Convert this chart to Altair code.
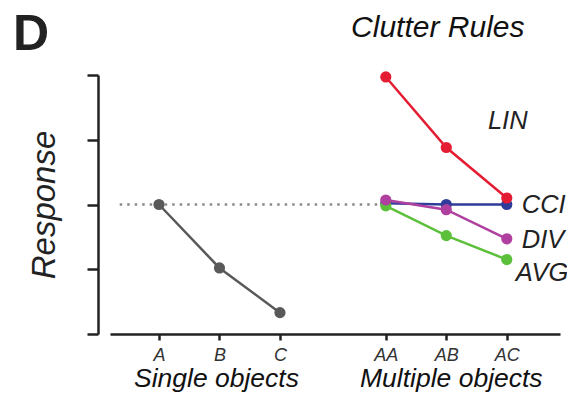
import altair as alt
import pandas as pd

# ---- data ----
single_cats = ["A", "B", "C"]
single_vals = [2.00, 1.02, 0.33]
multi_cats = ["AA", "AB", "AC"]
cci_vals = [2.02, 2.00, 2.00]
avg_vals = [1.98, 1.52, 1.15]
div_vals = [2.07, 1.92, 1.47]
lin_vals = [3.97, 2.88, 2.10]
y_ticks = [0, 1, 2, 3, 4]
series_names = ["Single", "CCI", "AVG", "DIV", "LIN"]
series_labels = ["CCI", "AVG", "DIV", "LIN"]
group_titles = ["Single objects", "Multiple objects"]

# ---- layout (positions of categories on the x scale) ----
GAP = 1.75
cat_pos = {c: float(i) for i, c in enumerate(single_cats)}
cat_pos.update({c: len(single_cats) - 1 + GAP + i for i, c in enumerate(multi_cats)})
all_cats = single_cats + multi_cats

colors = {"Single": "#595959", "CCI": "#2f3c9a", "AVG": "#5cc03b",
          "DIV": "#b0409f", "LIN": "#e51d33"}

series_data = {
    "Single": (single_cats, single_vals),
    "CCI": (multi_cats, cci_vals),
    "AVG": (multi_cats, avg_vals),
    "DIV": (multi_cats, div_vals),
    "LIN": (multi_cats, lin_vals),
}

rows = []
for s in series_names:
    cats, vals = series_data[s]
    for c, v in zip(cats, vals):
        rows.append({"series": s, "cat": c, "pos": cat_pos[c], "val": v})
df = pd.DataFrame(rows)

FONT = "Liberation Sans"
INK = "#222222"

label_expr = " : ".join(
    f"datum.value == {cat_pos[c]} ? '{c}'" for c in all_cats) + " : ''"

x_scale = alt.Scale(domain=[-0.81, 6.63], nice=False, zero=False)
y_scale = alt.Scale(domain=[0, 4], nice=False, zero=False)

x_axis = alt.Axis(values=[cat_pos[c] for c in all_cats], labelExpr=label_expr,
                  title=None, grid=False, tickSize=6, tickWidth=2.5,
                  domainWidth=2.5, domainColor=INK, tickColor=INK,
                  labelFont=FONT, labelFontStyle="italic", labelFontSize=18,
                  labelColor="#333333", labelPadding=6, labelOverlap=False,
                  labelFlush=False)
y_axis = alt.Axis(values=y_ticks, labels=False, title="Response", grid=False,
                  tickSize=11, tickWidth=2.5, domainWidth=2.5,
                  domainColor=INK, tickColor=INK, offset=12,
                  titleFont=FONT, titleFontStyle="italic", titleFontWeight="normal",
                  titleFontSize=33, titleColor=INK, titlePadding=24)

X = alt.X("pos:Q", scale=x_scale, axis=x_axis)
Y = alt.Y("val:Q", scale=y_scale, axis=y_axis)

layers = []

# dotted reference at the single-object A response, running to AA
ref_row = df[df.series == "Single"].head(1)
ref = alt.Chart(ref_row).mark_rule(
    color="#8a8a8a", strokeWidth=2.5, strokeDash=[2.5, 5]
).encode(x=alt.X(datum=cat_pos["A"] - 0.65, scale=x_scale, axis=x_axis),
         x2=alt.X2(datum=cat_pos["AA"]), y=Y)
layers.append(ref)

for s in series_names:
    sub = df[df.series == s]
    layers.append(alt.Chart(sub).mark_line(color=colors[s], strokeWidth=2.5)
                  .encode(x=X, y=Y))
    layers.append(alt.Chart(sub).mark_circle(color=colors[s], size=125, opacity=1)
                  .encode(x=X, y=Y))

# series labels next to the last point
label_style = {
    "LIN": dict(align="center", dx=1, dy=-69),
    "CCI": dict(align="left", dx=15, dy=8),
    "DIV": dict(align="left", dx=15, dy=9),
    "AVG": dict(align="left", dx=9, dy=21),
}
for s in series_labels:
    last = df[df.series == s].tail(1).assign(label=s)
    layers.append(alt.Chart(last).mark_text(
        font=FONT, fontStyle="italic", fontSize=25.5, color=INK,
        baseline="alphabetic", **label_style[s]
    ).encode(x=X, y=Y, text="label:N"))

# group titles under the axis
group_centers = [cat_pos[single_cats[1]], cat_pos[multi_cats[1]]]
group_dx = [-3, 5]
for t, cx, ddx in zip(group_titles, group_centers, group_dx):
    layers.append(alt.Chart(pd.DataFrame({"t": [t]})).mark_text(
        font=FONT, fontStyle="italic", fontSize=26.5, color="#111111",
        baseline="alphabetic", align="center", dx=ddx
    ).encode(x=alt.X(datum=cx), y=alt.value(311.5), text="t:N"))

# panel heading and letter
layers.append(alt.Chart(pd.DataFrame({"t": ["Clutter Rules"]})).mark_text(
    font=FONT, fontStyle="italic", fontSize=30, color="#111111",
    baseline="alphabetic", align="center", dx=-8.5
).encode(x=alt.X(datum=cat_pos[multi_cats[1]]), y=alt.value(-38), text="t:N"))

layers.append(alt.Chart(pd.DataFrame({"t": ["D"]})).mark_text(
    font=FONT, fontWeight="bold", fontSize=50, color="#222222",
    baseline="alphabetic", align="left"
).encode(x=alt.value(-97), y=alt.value(-25), text="t:N"))

chart = alt.layer(*layers).properties(
    width=450, height=259,
    autosize=alt.AutoSizeParams(type="none"),
    padding={"left": 102, "top": 67, "right": 7, "bottom": 58},
).configure_view(stroke=None)

chart.save("out.html", embed_options={"renderer": "svg", "actions": False})
